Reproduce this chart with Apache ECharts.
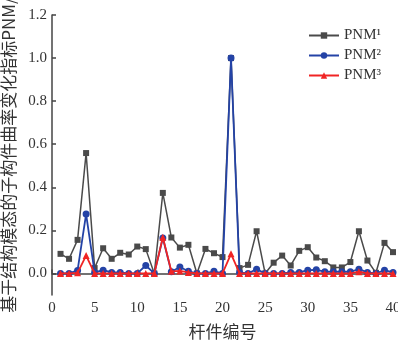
<!DOCTYPE html>
<html>
<head>
<meta charset="utf-8">
<script src="https://cdn.jsdelivr.net/npm/echarts@6/dist/echarts.min.js"></script>
<style>html,body{margin:0;padding:0;background:#fff;}#c{width:398px;height:343px;}</style>
</head>
<body>
<div id="c"></div>
<script>
const members = [1,2,3,4,5,6,7,8,9,10,11,12,13,14,15,16,17,18,19,20,21,22,23,24,25,26,27,28,29,30,31,32,33,34,35,36,37,38,39,40];
const pnm1 = [0.091,0.068,0.156,0.559,0.025,0.117,0.068,0.096,0.088,0.125,0.113,0.0,0.374,0.167,0.12,0.133,0.0,0.114,0.094,0.076,1.0,0.025,0.04,0.196,0.0,0.05,0.083,0.037,0.105,0.122,0.074,0.057,0.028,0.028,0.053,0.196,0.06,0.003,0.142,0.099];
const pnm2 = [0.0,0.0,0.014,0.276,0.005,0.015,0.005,0.005,0.0,0.0,0.037,0.0,0.165,0.008,0.03,0.01,0.0,0.0,0.01,0.0,1.0,0.005,0.0,0.02,0.0,0.0,0.0,0.005,0.005,0.015,0.017,0.008,0.008,0.008,0.008,0.02,0.005,0.0,0.015,0.005];
const pnm3 = [0.0,0.0,0.003,0.083,0.0,0.0,0.0,0.0,0.0,0.0,0.0,0.0,0.168,0.01,0.012,0.005,0.0,0.0,0.0,0.0,0.091,0.0,0.0,0.0,0.0,0.0,0.0,0.0,0.0,0.0,0.0,0.0,0.0,0.0,0.0,0.008,0.0,0.0,0.0,0.0];
const yTicks = [0,0.2,0.4,0.6,0.8,1.0,1.2];
const seriesNames = ['PNM¹','PNM²','PNM³'];

const serif = '"Liberation Serif","Noto Sans CJK SC",serif';
const cjk = '"Noto Sans CJK SC","Liberation Serif",sans-serif';
function pairs(v){ return members.map((m,i)=>[m,v[i]]); }

const chart = echarts.init(document.getElementById('c'), null, {renderer:'canvas'});
chart.setOption({
  animation:false,
  backgroundColor:'#fff',
  grid:{left:52,right:5,top:15,bottom:48,containLabel:false,outerBoundsMode:'none'},
  legend:{
    right:12, top:23, orient:'vertical', itemGap:5, itemWidth:30, itemHeight:8,
    textStyle:{fontFamily:serif,fontSize:15,color:'#333'},
    data:seriesNames
  },
  xAxis:{
    type:'value', min:0, max:40, interval:5,
    name:'杆件编号', nameLocation:'middle', nameGap:28,
    nameTextStyle:{fontFamily:cjk,fontSize:17,color:'#333'},
    axisLine:{lineStyle:{color:'#444',width:1.5}},
    axisTick:{inside:true,length:4,lineStyle:{color:'#444',width:1.5}},
    axisLabel:{fontFamily:serif,fontSize:15,color:'#333',margin:6,hideOverlap:false},
    splitLine:{show:false}
  },
  yAxis:{
    type:'value', min:-0.1, max:1.2,
    name:'基于结构模态的子构件曲率变化指标PNM/', nameLocation:'middle', nameGap:33, nameRotate:90,
    nameTextStyle:{fontFamily:cjk,fontSize:17,color:'#333'},
    axisLine:{lineStyle:{color:'#444',width:1.5}},
    axisTick:{inside:true,length:4,customValues:yTicks,lineStyle:{color:'#444',width:1.5}},
    axisLabel:{fontFamily:serif,fontSize:15,color:'#333',margin:5,customValues:yTicks,
      formatter:v=>v.toFixed(1)},
    splitLine:{show:false}
  },
  series:[
    {name:seriesNames[0], type:'line', data:pairs(pnm1), symbol:'rect', symbolSize:6, z:2,
      itemStyle:{color:'#4a4a4a'}, lineStyle:{color:'#4a4a4a',width:1.5}},
    {name:seriesNames[1], type:'line', data:pairs(pnm2), symbol:'circle', symbolSize:7, z:3,
      itemStyle:{color:'#2443a6'}, lineStyle:{color:'#2443a6',width:1.8}},
    {name:seriesNames[2], type:'line', data:pairs(pnm3), symbol:'triangle', symbolSize:7, z:4,
      itemStyle:{color:'#f02424'}, lineStyle:{color:'#f02424',width:1.8}}
  ]
});
</script>
</body>
</html>
